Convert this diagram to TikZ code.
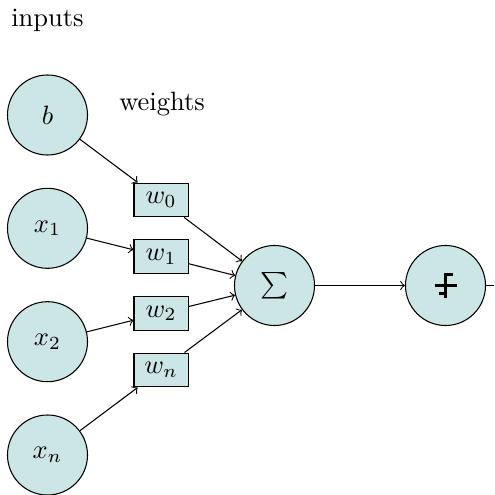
\documentclass[tikz,border=0pt]{standalone}
\begin{document}
\begin{tikzpicture}[x=0.3774pt,y=-0.3774pt,
  neuron/.style={circle,draw,fill=teal!20,minimum size=30.2pt,inner sep=0pt},
  wbox/.style={rectangle,draw,fill=teal!20,minimum width=20.4pt,minimum height=12.8pt,inner sep=0pt},
  conn/.style={->},
  glyph/.style={line width=0.8pt}]
\useasboundingbox (0,0) rectangle (494,495);
\node (inputs) at (47.5,20) {inputs};
\node (weights) at (162,104) {weights};
\node[neuron] (b)  at (47.5,115) {$b$};
\node[neuron] (x1) at (47.5,228.3) {$x_1$};
\node[neuron] (x2) at (47.5,341.7) {$x_2$};
\node[neuron] (xn) at (47.5,455) {$x_n$};
\node[wbox] (w0) at (161,200) {$w_0$};
\node[wbox] (w1) at (161,256.7) {$w_1$};
\node[wbox] (w2) at (161,313.3) {$w_2$};
\node[wbox] (wn) at (161,370) {$w_n$};
\node[neuron] (sum) at (274.5,285.5) {$\sum$};
\node[neuron] (act) at (445.5,285.5) {};
\coordinate (out) at (494,285.5);
\draw[conn] (b) -- (w0);
\draw[conn] (x1) -- (w1);
\draw[conn] (x2) -- (w2);
\draw[conn] (xn) -- (wn);
\draw[conn] (w0) -- (sum);
\draw[conn] (w1) -- (sum);
\draw[conn] (w2) -- (sum);
\draw[conn] (wn) -- (sum);
\draw[conn] (sum) -- (act);
\draw (act) -- (out);
\draw[glyph] ([xshift=-11*0.3774pt]act.center) -- ([xshift=11*0.3774pt]act.center);
\draw[glyph] ([xshift=7*0.3774pt,yshift=11*0.3774pt]act.center) -- ([yshift=11*0.3774pt]act.center) -- ([yshift=-12*0.3774pt]act.center);
\draw[glyph] ([xshift=-7*0.3774pt,yshift=-8*0.3774pt]act.center) -- ([yshift=-8*0.3774pt]act.center);
\end{tikzpicture}
\end{document}
